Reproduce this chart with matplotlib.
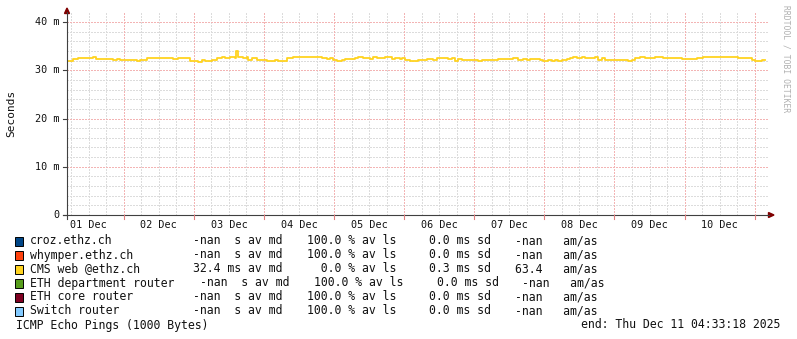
import matplotlib
matplotlib.use("Agg")
import matplotlib.pyplot as plt
from matplotlib.lines import Line2D
from matplotlib.patches import Polygon, Rectangle
import numpy as np

# time axis: hours after 01 Dec 00:00, graph covers 10 days ending 11 Dec 04:33:18
start_hour = 4.555
span_hours = 240.0

# median RTT of "CMS web @ethz.ch": hours after start where the step begins, value in ms
step_hours = [0.0, 2.1, 3.8, 8.9, 9.9, 15.8, 17.1, 18.2, 24.0, 25.0, 27.4, 36.3, 38.0,
              42.1, 44.9, 46.2, 47.3, 49.6, 51.4, 53.1, 54.1, 55.8, 57.5, 57.9, 58.5,
              60.3, 61.6, 62.0, 63.3, 65.1, 68.5, 71.2, 72.2, 75.3, 77.4, 79.8, 80.8,
              87.3, 89.0, 90.0, 91.1, 92.4, 94.2, 95.2, 98.6, 99.6, 101.3, 103.7, 104.8,
              106.1, 108.9, 111.3, 112.3, 114.0, 114.7, 115.7, 117.4, 120.2, 123.3, 125.3,
              126.7, 130.4, 131.8, 132.8, 133.9, 135.2, 140.7, 142.1, 147.6, 152.7, 154.4,
              156.1, 157.5, 158.5, 161.9, 163.0, 164.7, 166.1, 167.1, 168.1, 169.5, 171.2,
              172.2, 173.2, 174.6, 176.3, 177.4, 180.8, 181.8, 183.2, 184.2, 186.6, 192.1,
              193.4, 194.5, 196.2, 197.9, 201.3, 204.1, 208.8, 210.6, 214.3, 215.7, 217.7,
              220.1, 229.7, 234.5, 235.6, 238.0]
median_ms = [32.0, 32.3, 32.6, 32.8, 32.4, 32.2, 32.4, 32.1, 31.9, 32.2, 32.6, 32.3, 32.6,
             32.0, 31.8, 32.2, 32.0, 32.2, 32.5, 32.7, 32.5, 32.7, 32.5, 34.0, 32.7,
             32.5, 32.7, 32.2, 32.5, 32.2, 32.0, 32.2, 32.0, 32.5, 32.7, 32.8, 32.7,
             32.5, 32.3, 32.5, 32.1, 31.9, 32.1, 32.3, 32.5, 32.7, 32.6, 32.4, 32.8,
             32.5, 32.7, 32.3, 32.5, 32.3, 32.5, 32.1, 31.9, 32.1, 32.3, 32.1,
             32.5, 32.3, 32.5, 32.0, 32.3, 32.1, 31.9, 32.1, 32.3, 32.5, 32.1,
             32.3, 32.1, 32.3, 32.1, 32.0, 32.1, 32.0, 32.1, 32.0, 32.1, 32.3,
             32.5, 32.7, 32.5, 32.7, 32.5, 32.7, 32.2, 32.5, 32.2, 32.1, 31.9,
             32.2, 32.5, 32.7, 32.5, 32.7, 32.6, 32.5, 32.3, 32.4, 32.5, 32.7,
             32.8, 32.5, 32.1, 31.95, 32.2]
line_end = 239.0

hosts = ["croz.ethz.ch", "whymper.ethz.ch", "CMS web @ethz.ch",
         "ETH department router", "ETH core router", "Switch router"]
host_colors = ["#004586", "#ff420e", "#ffd320", "#579d1c", "#7e0021", "#83caff"]
median_txt = ["-nan  s av md", "-nan  s av md", "32.4 ms av md",
              "-nan  s av md", "-nan  s av md", "-nan  s av md"]
loss_txt = ["100.0 % av ls", "100.0 % av ls", "  0.0 % av ls",
            "100.0 % av ls", "100.0 % av ls", "100.0 % av ls"]
sd_txt = ["0.0 ms sd", "0.0 ms sd", "0.3 ms sd", "0.0 ms sd", "0.0 ms sd", "0.0 ms sd"]
amas_txt = ["-nan   am/as", "-nan   am/as", "63.4   am/as",
            "-nan   am/as", "-nan   am/as", "-nan   am/as"]

day_labels = ["01 Dec", "02 Dec", "03 Dec", "04 Dec", "05 Dec",
              "06 Dec", "07 Dec", "08 Dec", "09 Dec", "10 Dec"]
ytick_vals = [0, 10, 20, 30, 40]
ytick_labels = ["0", "10 m", "20 m", "30 m", "40 m"]

W, H = 797, 339
MONO = "DejaVu Sans Mono"


def fx(x):
    return x / W


def fy(y):
    return 1 - y / H


fig = plt.figure(figsize=(W / 100, H / 100), dpi=100)
fig.patch.set_facecolor("white")

# plot area: x 67..768 px, y 13..215 px (0 ms at 215, 40 ms at 22)
ax = fig.add_axes([fx(67), fy(215), 701 / W, 202 / H])
ax.set_xlim(start_hour, start_hour + span_hours)
ax.set_ylim(0, 202 / 4.825)
for s in ax.spines.values():
    s.set_visible(False)
ax.set_xticks([])
ax.set_yticks([])

dot = (0, (1.4, 1.4))
minor_col = "#dcdcdc"
major_col = "#f3b4b4"
# minor grid
for h in np.arange(6, 250, 6):
    if h % 24 and start_hour < h < start_hour + span_hours:
        ax.axvline(h, color=minor_col, lw=0.72, ls=dot, antialiased=False, zorder=1)
for v in np.arange(2, 42, 2):
    if v % 10:
        ax.axhline(v, color=minor_col, lw=0.72, ls=dot, antialiased=False, zorder=1)
# major grid
for h in np.arange(24, 250, 24):
    if start_hour < h < start_hour + span_hours:
        ax.axvline(h, color=major_col, lw=0.72, ls=dot, antialiased=False, zorder=2)
for v in ytick_vals[1:]:
    ax.axhline(v, color=major_col, lw=0.72, ls=dot, antialiased=False, zorder=2)

# median line
xs = [start_hour + h for h in step_hours] + [start_hour + line_end]
ys = median_ms + [median_ms[-1]]
ax.step(xs, ys, where="post", color="#ffd320", lw=1.3, zorder=5)

# axes lines and arrows
axis_col = "#404040"
fig.add_artist(Line2D([fx(67), fx(67)], [fy(219), fy(12)], color=axis_col, lw=0.8))
fig.add_artist(Line2D([fx(63), fx(769)], [fy(215), fy(215)], color=axis_col, lw=0.8))
fig.add_artist(Polygon([[fx(64.5), fy(13.5)], [fx(69.5), fy(13.5)], [fx(67), fy(8)]],
                       closed=True, color="#800000"))
fig.add_artist(Polygon([[fx(768.5), fy(212.5)], [fx(768.5), fy(217.5)], [fx(774), fy(215)]],
                       closed=True, color="#800000"))

# x ticks and day labels
for h in np.arange(24, 250, 24):
    if start_hour < h < start_hour + span_hours:
        x = 67 + (h - start_hour) * 701 / span_hours
        fig.add_artist(Line2D([fx(x), fx(x)], [fy(215), fy(219)], color="#e08080", lw=0.8))
for i, lab in enumerate(day_labels):
    h = 12 + 24 * i
    x = 67 + (h - start_hour) * 701 / span_hours
    fig.text(fx(x), fy(225), lab, family=MONO, fontsize=7.3, ha="center", va="center",
             color="#111111")

# y ticks and labels
for v, lab in zip(ytick_vals, ytick_labels):
    y = 215 - v * 4.825
    fig.add_artist(Line2D([fx(63), fx(67)], [fy(y), fy(y)], color=axis_col, lw=0.8))
    fig.text(fx(60), fy(y), lab, family=MONO, fontsize=7.3, ha="right", va="center",
             color="#111111")

fig.text(fx(11), fy(113), "Seconds", family=MONO, fontsize=8, rotation=90,
         ha="center", va="center", color="#111111")
fig.text(fx(786), fy(5), "RRDTOOL / TOBI OETIKER", family=MONO, fontsize=5.8,
         rotation=270, ha="center", va="top", color="#b0b0b0")

# legend
row_y = [241, 255, 269, 283, 297, 311]
col_x = [193, 307, 429, 515]
for i, name in enumerate(hosts):
    y = row_y[i]
    fig.add_artist(Rectangle((fx(15), fy(y + 4.5)), 8 / W, 9 / H, facecolor=host_colors[i],
                             edgecolor="black", lw=0.7))
    fig.text(fx(30), fy(y), name, family=MONO, fontsize=8.3, va="center", color="#111111")
    shift = 7.5 if len(name) > 20 else 0
    for cx, txt in zip(col_x, [median_txt[i], loss_txt[i], sd_txt[i], amas_txt[i]]):
        fig.text(fx(cx + shift), fy(y), txt, family=MONO, fontsize=8.3, va="center",
                 color="#111111")

fig.text(fx(16), fy(325), "ICMP Echo Pings (1000 Bytes)", family=MONO, fontsize=8.3,
         va="center", color="#111111")
fig.text(fx(780), fy(325), "end: Thu Dec 11 04:33:18 2025", family=MONO, fontsize=8.3,
         va="center", ha="right", color="#111111")

fig.savefig("out.png", dpi=100)
